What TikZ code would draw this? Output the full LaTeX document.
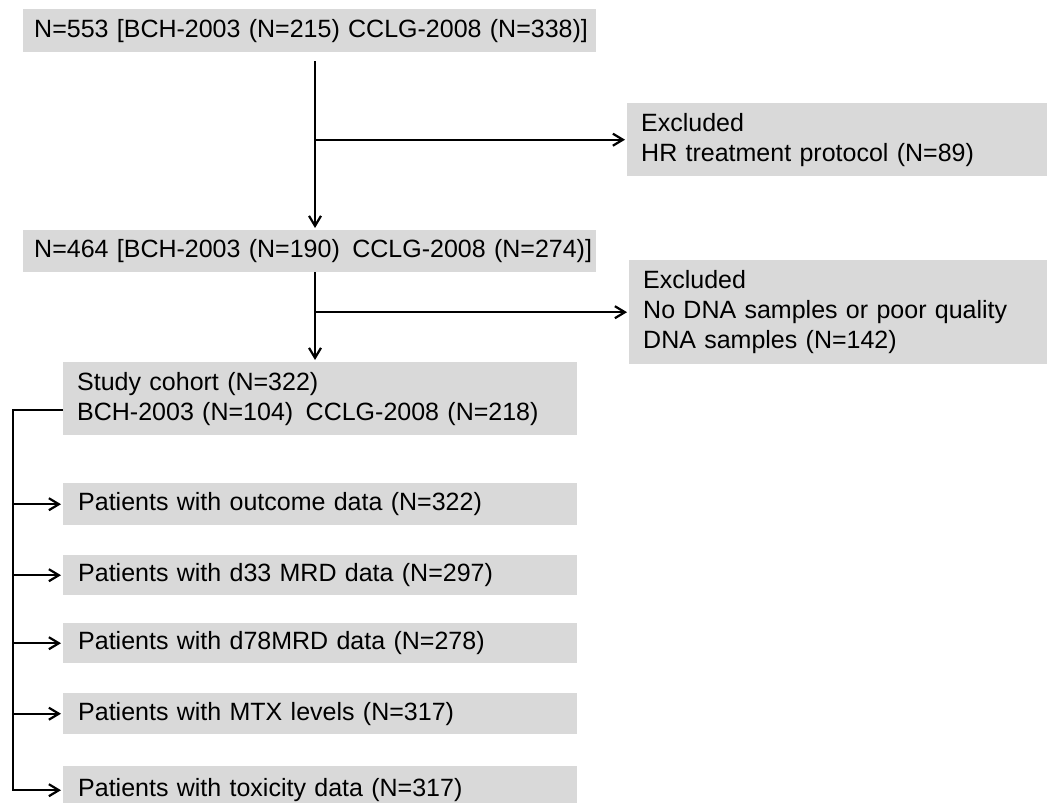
\documentclass[tikz,border=0pt]{standalone}
\usepackage{fontspec}
\setmainfont{Liberation Sans}
\usetikzlibrary{arrows.meta,positioning,calc}
\definecolor{boxgrey}{RGB}{217,217,217}

\begin{document}
\begin{tikzpicture}[x=1pt,y=-1pt,
    gbox/.style={fill=boxgrey,anchor=north west,align=left,inner xsep=11pt,inner ysep=0pt,font=\fontsize{25}{30}\selectfont},
    pbox/.style={gbox,inner xsep=15pt,text width=484pt},
    arr/.style={-{Straight Barb[length=10pt,width=12pt]},line width=2.2pt,shorten >=2pt}]
  \useasboundingbox (0,0) rectangle (1047,803);
  \clip (0,0) rectangle (1047,803);
  % enrolment and exclusions
  \node[gbox,text width=551pt,minimum height=43pt] (all) at (23,9) {\mbox{N=553 [BCH-2003 (N=215) CCLG-2008 (N=338)]}};
  \node[gbox,inner xsep=14pt,text width=392pt,minimum height=73pt] (excl1) at (627,103) {Excluded\\HR treatment protocol (N=89)};
  \node[gbox,text width=551pt,minimum height=42pt] (eligible) at (23,230) {\mbox{N=464 [BCH-2003 (N=190)\ \,CCLG-2008 (N=274)]}};
  \node[gbox,inner xsep=14pt,text width=390pt,minimum height=104pt] (excl2) at (629,260) {Excluded\\No DNA samples or poor quality\\DNA samples (N=142)};
  \node[gbox,inner xsep=14pt,text width=486pt,minimum height=73pt] (cohort) at (63,362) {Study cohort (N=322)\\BCH-2003 (N=104)\ \,CCLG-2008 (N=218)};
  % data subsets
  \node[pbox,minimum height=42pt] (outcome) at (63,483) {Patients with outcome data (N=322)};
  \node[pbox,minimum height=40pt] (mrd33) at (63,555) {Patients with d33 MRD data (N=297)};
  \node[pbox,minimum height=40pt] (mrd78) at (63,623) {Patients with d78MRD data (N=278)};
  \node[pbox,minimum height=41pt] (mtx) at (63,693) {Patients with MTX levels (N=317)};
  \node[pbox,minimum height=48pt] (tox) at (63,766) {Patients with toxicity data (N=317)};

  \coordinate (split1) at (315,61);
  \draw[arr] (split1) -- (split1 |- eligible.north);
  \draw[arr] (split1 |- excl1.west) -- (excl1.west);
  \draw[arr] (eligible.south -| split1) -- (split1 |- cohort.north);
  \draw[arr] (split1 |- excl2.west) -- (excl2.west);

  \coordinate (rail) at (13,410);
  \draw[arr] (cohort.west |- rail) -- (rail) -- (rail |- tox.west) -- (tox.west);
  \foreach \b in {outcome,mrd33,mrd78,mtx}
    \draw[arr] (rail |- \b.west) -- (\b.west);
\end{tikzpicture}
\end{document}
